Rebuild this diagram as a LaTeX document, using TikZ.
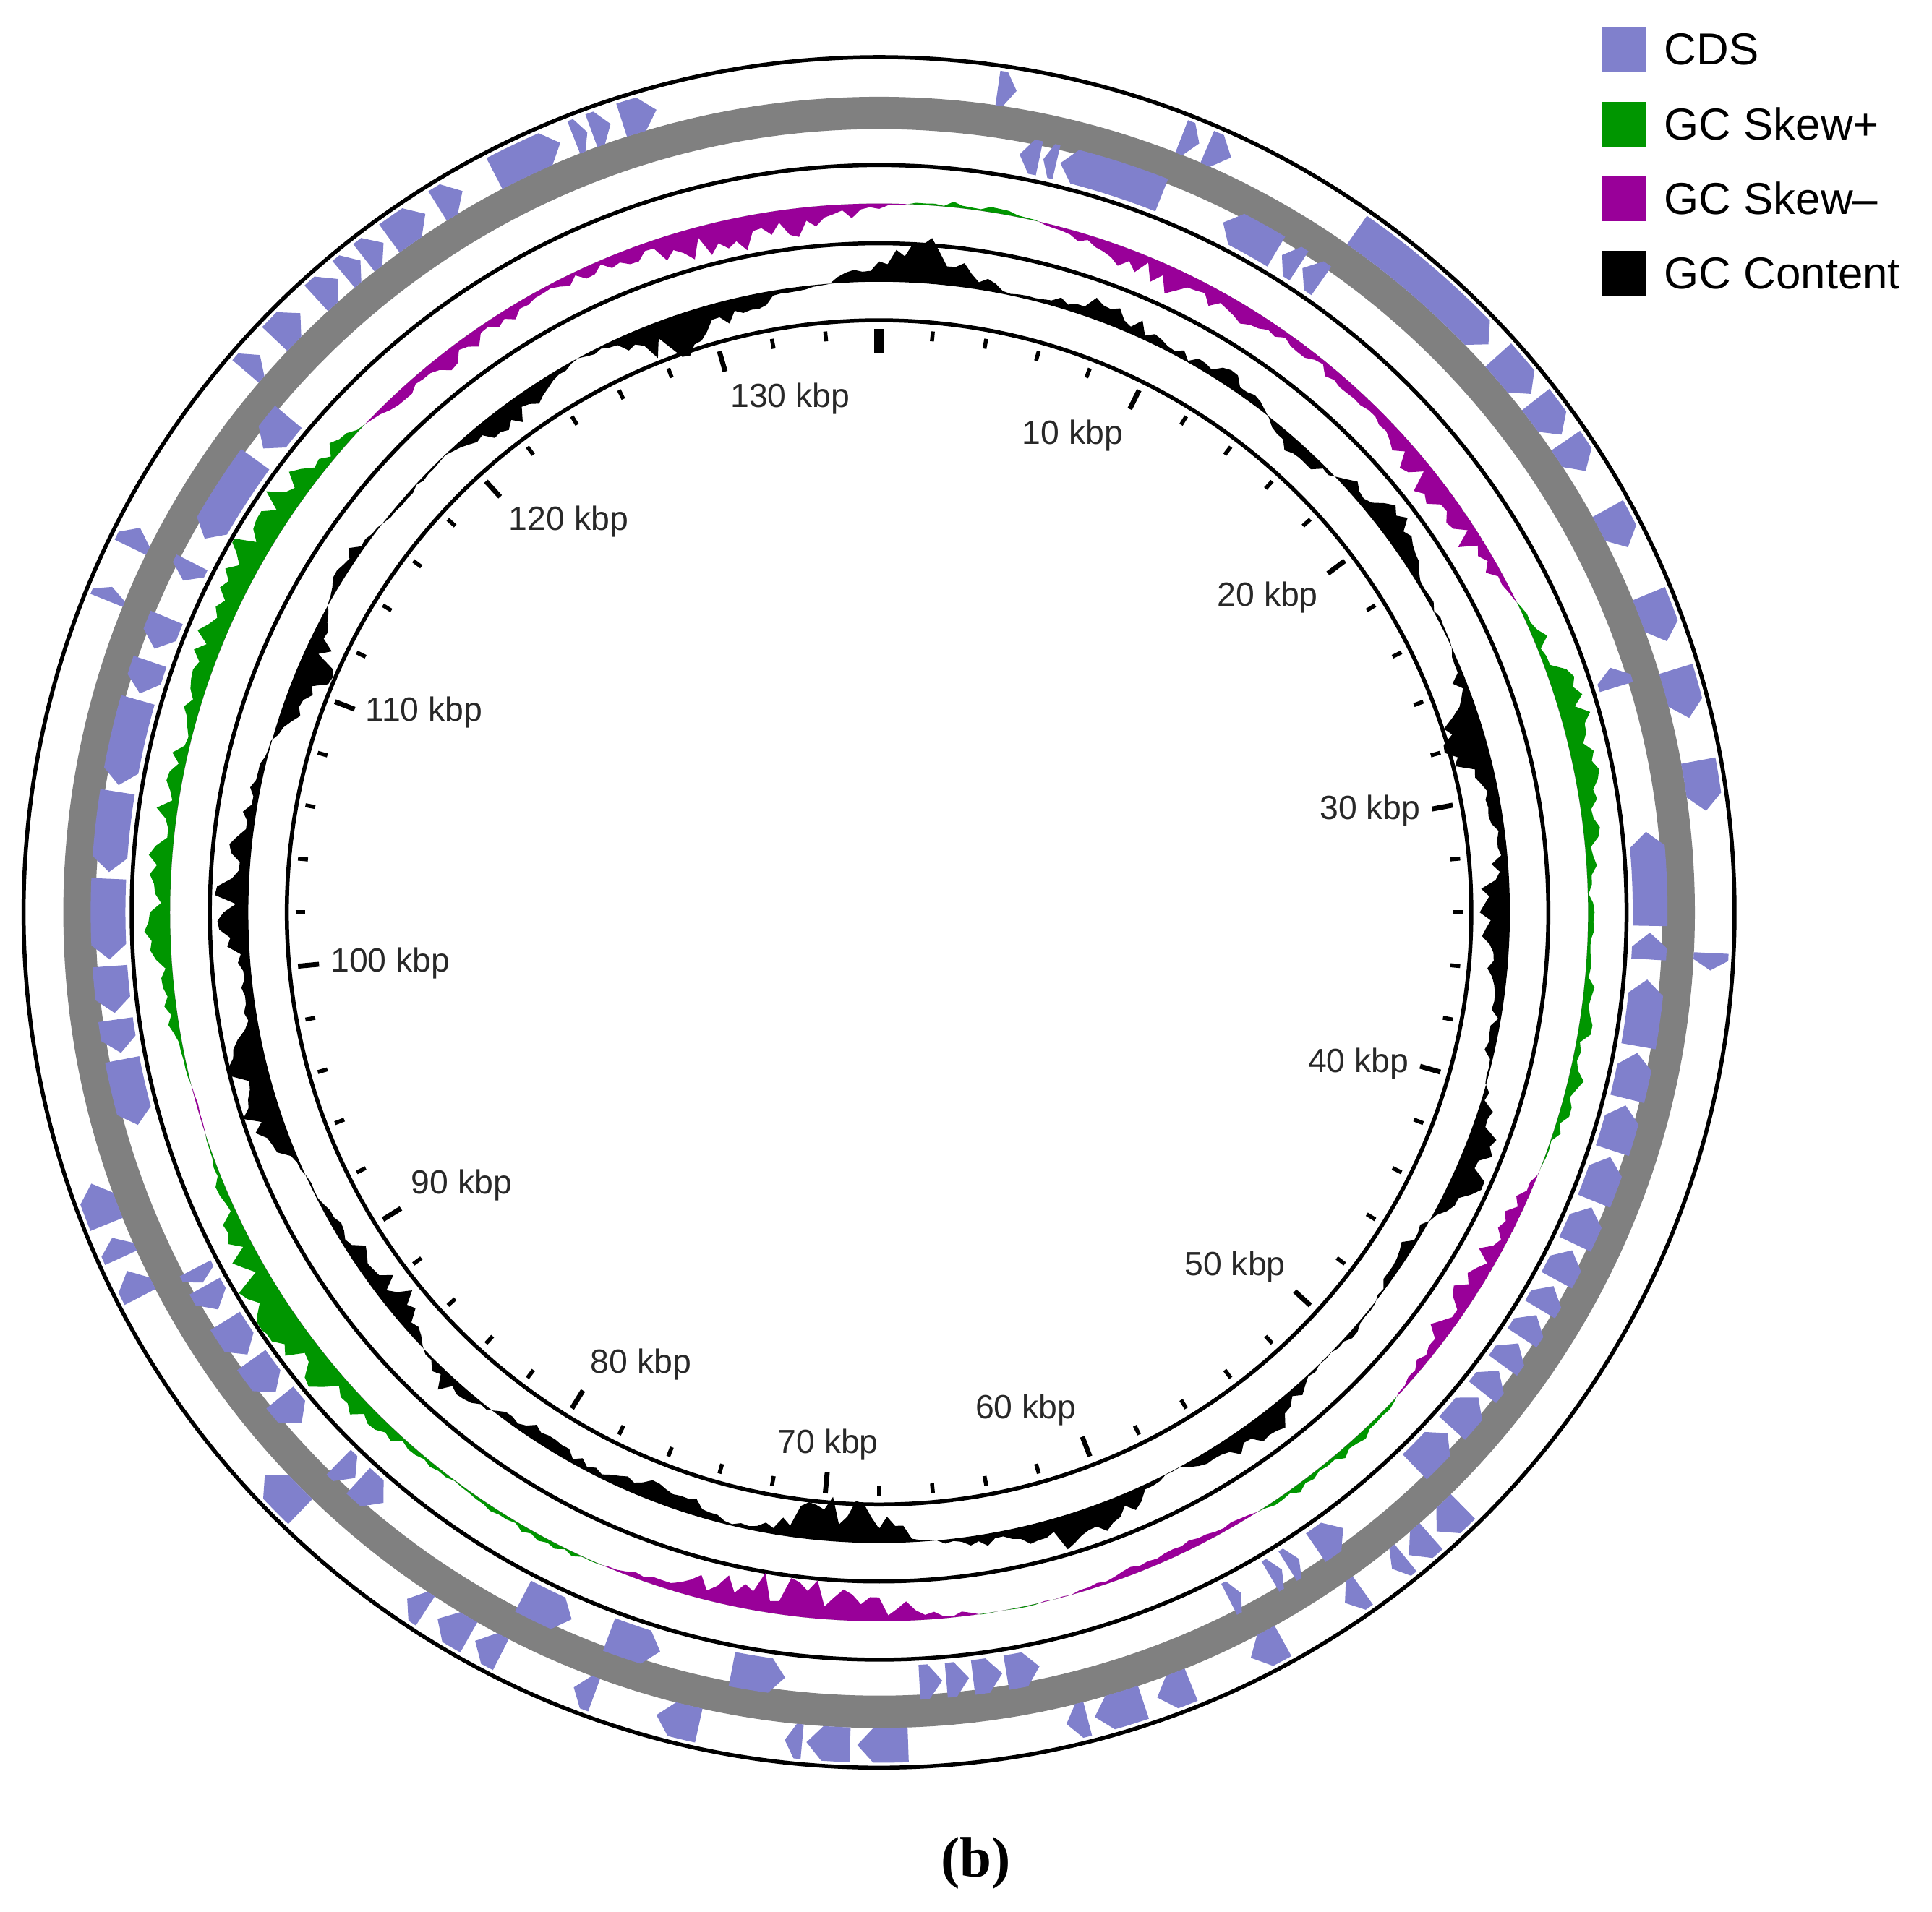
\documentclass[tikz,border=0pt]{standalone}
\usepackage{fontspec}
\setmainfont{Liberation Sans}
\newfontfamily\capfont{Liberation Serif}
\definecolor{cdsc}{RGB}{128,128,204}
\definecolor{ringc}{RGB}{128,128,128}
\definecolor{skp}{RGB}{0,150,0}
\definecolor{skm}{RGB}{153,0,153}
\definecolor{lab}{RGB}{40,40,40}
\begin{document}
\begin{tikzpicture}[x=0.5pt,y=0.5pt,
  cds/.style={fill=cdsc,draw=none},
  ringline/.style={draw=black,line width=1.6},
  ticklab/.style={font=\fontsize{13.5}{15}\selectfont,text=lab,inner sep=1pt},
  legtext/.style={font=\fontsize{18}{20}\selectfont,anchor=west,inner sep=0pt}]
\useasboundingbox (-708,-805) rectangle (848,735);
% rings
\draw[ringline] (0,0) circle[radius=689];
\draw[ringc,line width=13] (0,0) circle[radius=644];
\draw[ringline] (0,0) circle[radius=602];
\draw[ringline] (0,0) circle[radius=539];
\draw[ringline] (0,0) circle[radius=477];
% CDS features: start/end/band(1 outer = clockwise, 0 inner = counter-clockwise)
\foreach \s/\e/\b in {
 8.2/9.5/1, 21.3/22.6/1, 23.2/25/1, 35/47/1, 48/51.5/1, 52/55/1, 55.5/58/1, 61/64/1, 67.5/71/1, 73/76.5/1, 79.5/83/1, 92.8/94/1,
 71.5/73/0, 84/91/0, 91.5/93.5/0, 95/100/0, 100.5/104/0, 104.5/108/0, 108.5/112/0, 112.5/115.5/0, 116/118.5/0, 119/121/0, 121.5/123.5/0, 124/126/0, 126.5/128.5/0, 129/132/0, 132.5/136/0,
 135.5/138/1, 138.5/140.5/1, 140.8/142/1, 144.5/146/1, 151/153.5/1, 158/160.5/1, 161.5/165/1, 165.5/167/1, 178/181.5/1, 182/185/1, 185.3/186.5/1, 192.5/195.5/1, 200/201.5/1, 207/209/1, 209.5/212/1, 213/214.5/1, 224/227.5/1, 242.5/244.5/1, 245.5/247/1, 248/251/1,
 143/145.5/0, 147/148/0, 148.5/149.5/0, 152/153/0, 168/170.5/0, 170.8/173/0, 173.3/175/0, 175.3/177/0, 187/191/0, 196.5/200.5/0, 203.5/207.5/0,
 220/222.5/0, 222.8/224.5/0, 228.5/231/0, 231.5/234.5/0, 235/238/0, 239/241/0, 241.3/242.5/0, 254/259/0, 259.5/262/0, 262.5/266/0, 266.5/272.5/0, 273/279/0, 279.5/286/0, 286.5/289/0, 290/292.5/0, 295.5/297/0, 299/306/0, 307/310/0,
 292/293/1, 296/297.5/1, 310.5/312/1, 313.5/316/1, 317.5/319.5/1, 320/321.5/1, 321.8/323.5/1, 324/327/1, 328/330/1, 332.5/337.5/1, 338.5/339.5/1, 339.8/341.2/1, 342/344.5/1,
 10.5/12/0, 12.3/13.3/0, 13.6/21.5/0, 26.5/31/0, 31.5/33/0, 33.3/35/0}{
  \pgfmathsetmacro\ri{\b==1?657:607}
  \pgfmathsetmacro\ro{\ri+28}
  \pgfmathsetmacro\rm{\ri+14}
  \pgfmathsetmacro\h{min(1.1,(\e-\s)*0.6)}
  \pgfmathsetmacro\A{\b==1?\s:\e}
  \pgfmathsetmacro\T{\b==1?\e:\s}
  \pgfmathsetmacro\N{\b==1?\e-\h:\s+\h}
  \fill[cds] ({90-\A}:\ri) arc[start angle={90-\A},end angle={90-\N},radius=\ri] -- ({90-\T}:\rm) -- ({90-\N}:\ro) arc[start angle={90-\N},end angle={90-\A},radius=\ro] -- cycle;
}
% build profiles
\pgfmathsetseed{11}
\gdef\skpath{}\gdef\gcpath{}
\foreach \i in {0,...,479}{
  \pgfmathsetmacro\myT{\i*0.75}
  \pgfmathsetmacro\myU{mod(5*\myT,360)}
  \pgfmathsetmacro\myV{mod(11*\myT,360)}
  \pgfmathsetmacro\myW{mod(13*\myT,360)}
  \pgfmathsetmacro\myX{mod(7*\myT,360)}
  \pgfmathsetmacro\myY{mod(23*\myT,360)}
  \pgfmathsetmacro\myG{(-9*cos(2*\myT)-5*sin(\myT+20)+8*sin(\myU+40)+7*sin(\myV+10))*(0.4+1.2*rnd)+2*(rnd-0.5)}
  \pgfmathsetmacro\myRS{571+\myG}
  \pgfmathsetmacro\myC{(11*sin(3*\myT+20)+9*sin(\myX+50)+8*sin(\myW+80)+6*sin(\myY))*(0.5+1.0*rnd)+3*(rnd-0.5)}
  \pgfmathsetmacro\myRC{508+\myC}
  \pgfmathsetmacro\myA{90-\myT}
  \xdef\skpath{\skpath (\myA:\myRS) --}
  \xdef\gcpath{\gcpath (\myA:\myRC) --}
}
% GC skew
\begin{scope}[even odd rule]
 \clip (0,0) circle[radius=600] (0,0) circle[radius=571];
 \edef\tmp{\noexpand\fill[skp] \skpath cycle (0,0) circle[radius=571];}\tmp
\end{scope}
\begin{scope}[even odd rule]
 \clip (0,0) circle[radius=571];
 \edef\tmp{\noexpand\fill[skm] \skpath cycle (0,0) circle[radius=571];}\tmp
\end{scope}
% GC content
\begin{scope}[even odd rule]
 \edef\tmp{\noexpand\fill[black] \gcpath cycle (0,0) circle[radius=508];}\tmp
\end{scope}
% ticks
\foreach \k in {0,2,...,134}{
  \pgfmathsetmacro\a{90-\k/136*360}
  \pgfmathtruncatemacro\m{mod(\k,10)}
  \ifnum\m=0
    \draw[line width=2] (\a:470) -- (\a:453);
  \else
    \draw[line width=1.6] (\a:470) -- (\a:462);
  \fi
}
\draw[line width=4] (90:470) -- (90:450);
\foreach \k/\an in {10/north east,20/north east,30/east,40/east,50/south east,60/south east,70/south,80/south west,90/south west,100/west,110/west,120/north west,130/north west}{
  \pgfmathsetmacro\a{90-\k/136*360}
  \node[ticklab,anchor=\an] (t\k) at (\a:446) {\k\ kbp};
}
% legend
\fill[cdsc] (582,677) rectangle (618,713); \node[legtext] (l1) at (632,695) {CDS};
\fill[skp] (582,617) rectangle (618,653); \node[legtext] (l2) at (632,635) {GC Skew+};
\fill[skm] (582,557) rectangle (618,593); \node[legtext] (l3) at (632,575) {GC Skew–};
\fill[black] (582,497) rectangle (618,533); \node[legtext] (l4) at (632,515) {GC Content};
\node[font=\capfont\bfseries\fontsize{23}{25}\selectfont] (cap) at (78,-766) {(b)};
\end{tikzpicture}
\end{document}
